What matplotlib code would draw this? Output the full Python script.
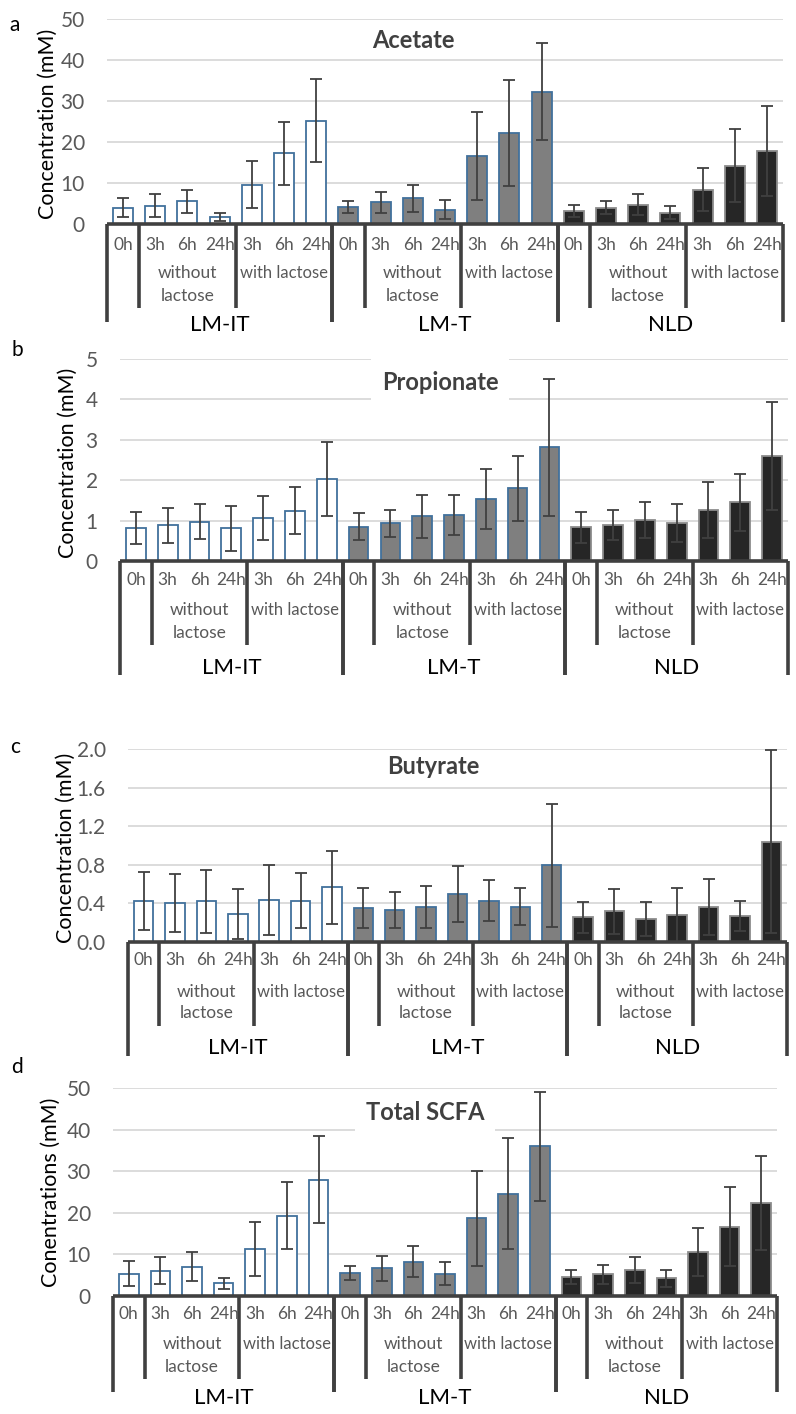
import numpy as np
import matplotlib.pyplot as plt
from matplotlib.transforms import blended_transform_factory

plt.rcParams['font.family'] = ['Lato', 'DejaVu Sans']

hours = ['0h', '3h', '6h', '24h', '3h', '6h', '24h']
groups = ['LM-IT', 'LM-T', 'NLD']

# order per group: 0h, without lactose 3h/6h/24h, with lactose 3h/6h/24h
acetate = [4.0, 4.5, 5.6, 1.7, 9.6, 17.3, 25.2,
           4.2, 5.3, 6.3, 3.5, 16.6, 22.2, 32.3,
           3.2, 4.0, 4.7, 2.7, 8.4, 14.2, 17.9]
acetate_sd = [2.4, 2.9, 2.8, 0.9, 5.8, 7.7, 10.1,
              1.4, 2.5, 3.3, 2.3, 10.8, 13.0, 11.8,
              1.4, 1.5, 2.6, 1.6, 5.3, 8.9, 11.0]

propionate = [0.81, 0.88, 0.97, 0.81, 1.06, 1.25, 2.03,
              0.85, 0.93, 1.11, 1.14, 1.53, 1.80, 2.81,
              0.83, 0.90, 1.02, 0.93, 1.26, 1.45, 2.60]
propionate_sd = [0.40, 0.43, 0.43, 0.56, 0.54, 0.58, 0.92,
                 0.33, 0.33, 0.53, 0.50, 0.74, 0.81, 1.69,
                 0.38, 0.37, 0.45, 0.47, 0.70, 0.71, 1.33]

butyrate = [0.425, 0.40, 0.42, 0.29, 0.435, 0.43, 0.566,
            0.35, 0.33, 0.36, 0.50, 0.43, 0.366, 0.795,
            0.256, 0.318, 0.238, 0.283, 0.366, 0.27, 1.04]
butyrate_sd = [0.30, 0.30, 0.33, 0.26, 0.36, 0.29, 0.38,
               0.21, 0.19, 0.22, 0.29, 0.21, 0.19, 0.64,
               0.16, 0.23, 0.18, 0.28, 0.29, 0.16, 0.95]

total = [5.3, 6.1, 7.06, 3.05, 11.2, 19.3, 28.0,
         5.6, 6.66, 8.2, 5.4, 18.7, 24.6, 36.0,
         4.6, 5.2, 6.3, 4.25, 10.6, 16.6, 22.3]
total_sd = [3.0, 3.3, 3.5, 1.35, 6.5, 8.0, 10.4,
            1.7, 3.0, 3.7, 2.8, 11.4, 13.4, 13.1,
            1.7, 2.2, 3.1, 2.1, 5.7, 9.5, 11.3]

W, H = 796, 1414
fig = plt.figure(figsize=(W / 100, H / 100), dpi=100)


def fy(py):
    return 1 - py / H


face = ['white'] * 7 + ['#7f7f7f'] * 7 + ['#262626'] * 7
edge = ['#41719c'] * 14 + ['#8c8c8c'] * 7
axis_c = '#404040'
txt_c = '#595959'


def panel(left, right, top, bottom, ymax, ystep, fmt, vals, sds, title, tbox,
          title_xy, ylabel, ylabel_xy, letter, letter_xy, rows):
    ax = fig.add_axes([left / W, fy(bottom), (right - left) / W, (bottom - top) / H])
    x = np.arange(21)
    ax.bar(x, vals, width=0.62, color=face, edgecolor=edge, linewidth=1.3, zorder=2)
    ax.errorbar(x, vals, yerr=sds, fmt='none', ecolor=axis_c, elinewidth=1.3,
                capsize=4, capthick=1.3, zorder=3)
    ax.set_xlim(-0.5, 20.5)
    ax.set_ylim(0, ymax)
    ticks = np.arange(0, ymax + ystep / 2, ystep)
    ax.set_yticks(ticks)
    ax.set_yticklabels([fmt.format(t) for t in ticks], fontsize=15, color=txt_c)
    ax.tick_params(axis='y', length=0, pad=16)
    ax.set_xticks([])
    ax.yaxis.grid(True, color='#d9d9d9', lw=1.3)
    ax.set_axisbelow(True)
    for s in ax.spines.values():
        s.set_visible(False)

    tr = blended_transform_factory(ax.transData, fig.transFigure)
    ax.plot([-0.5, 20.5], [fy(bottom)] * 2, color=axis_c, lw=2.6, transform=tr,
            clip_on=False, zorder=4, solid_capstyle='butt')
    hour_y, without_y, lactose_y, sub_bot, grp_bot, grp_y = rows
    for g in range(3):
        b0 = 7 * g - 0.5
        for xb in (b0 + 1, b0 + 4):
            ax.plot([xb, xb], [fy(bottom), fy(sub_bot)], color=axis_c, lw=2.6,
                    transform=tr, clip_on=False, solid_capstyle='butt')
        for xb in (b0, b0 + 7):
            ax.plot([xb, xb], [fy(bottom), fy(grp_bot)], color=axis_c, lw=2.6,
                    transform=tr, clip_on=False, solid_capstyle='butt')
        for i, h in enumerate(hours):
            ax.text(7 * g + i, fy(hour_y), h, transform=tr, ha='center', va='center',
                    fontsize=12.5, color=txt_c)
        ax.text(7 * g + 2, fy(without_y), 'without', transform=tr, ha='center',
                va='center', fontsize=12.5, color=txt_c)
        ax.text(7 * g + 2, fy(lactose_y), 'lactose', transform=tr, ha='center',
                va='center', fontsize=12.5, color=txt_c)
        ax.text(7 * g + 5, fy(without_y), 'with lactose', transform=tr, ha='center',
                va='center', fontsize=12, color=txt_c)
        ax.text(7 * g + 3, fy(grp_y), groups[g], transform=tr, ha='center',
                va='center', fontsize=16, color='black')

    bbox = dict(fc='white', ec='none', pad=8) if tbox else None
    fig.text(title_xy[0] / W, fy(title_xy[1]), title, ha='center', va='center',
             fontsize=17, fontweight='bold', color=axis_c, bbox=bbox, zorder=1)
    fig.text(ylabel_xy[0] / W, fy(ylabel_xy[1]), ylabel, rotation=90, ha='center',
             va='center', fontsize=15.5, color='black')
    fig.text(letter_xy[0] / W, fy(letter_xy[1]), letter, ha='center', va='center',
             fontsize=15, color='black')
    return ax


panel(107, 783, 19, 224, 50, 10, '{:.0f}', acetate, acetate_sd, 'Acetate', False,
      (413, 40), 'Concentration (mM)', (48, 124), 'a', (15, 25),
      (245, 273, 296, 308, 322, 325))
panel(120, 788, 359, 561, 5, 1, '{:.0f}', propionate, propionate_sd, 'Propionate', True,
      (440, 382), 'Concentration (mM)', (68, 463), 'b', (17, 350),
      (580, 610, 633, 645, 675, 668))
panel(128, 787, 749, 942, 2.0, 0.4, '{:.1f}', butyrate, butyrate_sd, 'Butyrate', False,
      (433, 767), 'Concentration (mM)', (66, 848), 'c', (15, 747),
      (960, 992, 1013, 1026, 1056, 1048))
panel(113, 777, 1088, 1296, 50, 10, '{:.0f}', total, total_sd, 'Total SCFA', True,
      (425, 1112), 'Conentrations (mM)', (51, 1192), 'd', (17, 1067),
      (1314, 1344, 1367, 1379, 1392, 1398))

fig.savefig('out.png', dpi=100)
